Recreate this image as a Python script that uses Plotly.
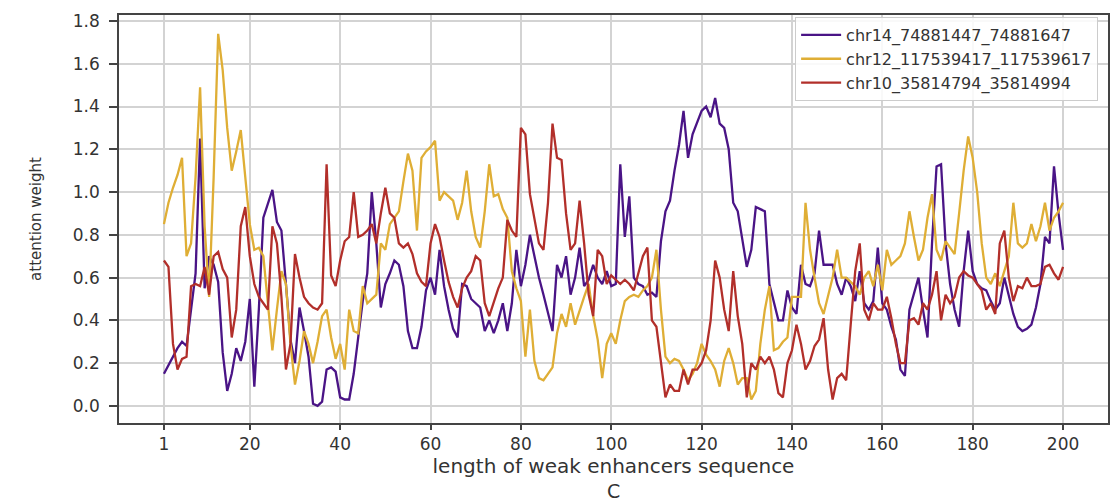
import plotly.graph_objects as go

positions = list(range(1, 201))

chr14_74881447_74881647 = [
    0.15, 0.19, 0.23, 0.27, 0.30, 0.28, 0.45, 0.62, 1.25, 0.55,
    0.70, 0.66, 0.58, 0.25, 0.07, 0.15, 0.27, 0.21, 0.30, 0.50,
    0.09, 0.45, 0.88, 0.95, 1.01, 0.86, 0.82, 0.57, 0.31, 0.20,
    0.46, 0.35, 0.23, 0.01, 0.00, 0.02, 0.17, 0.18, 0.16, 0.04,
    0.03, 0.03, 0.15, 0.32, 0.49, 0.62, 1.00, 0.76, 0.46, 0.57,
    0.62, 0.68, 0.66, 0.56, 0.35, 0.27, 0.27, 0.37, 0.54, 0.60,
    0.52, 0.73, 0.56, 0.45, 0.36, 0.32, 0.57, 0.56, 0.50, 0.48,
    0.46, 0.35, 0.40, 0.34, 0.40, 0.48, 0.35, 0.48, 0.73, 0.56,
    0.66, 0.80, 0.70, 0.60, 0.52, 0.43, 0.35, 0.66, 0.60, 0.70,
    0.52, 0.60, 0.74, 0.56, 0.59, 0.66, 0.60, 0.57, 0.63, 0.56,
    0.57, 1.13, 0.79, 0.98, 0.60, 0.57, 0.56, 0.52, 0.53, 0.51,
    0.77, 0.91, 0.96, 1.10, 1.22, 1.38, 1.16, 1.27, 1.33, 1.38,
    1.40, 1.35, 1.44, 1.32, 1.30, 1.20, 0.95, 0.91, 0.78, 0.65,
    0.73, 0.93, 0.92, 0.91, 0.57, 0.48, 0.40, 0.40, 0.54, 0.46,
    0.43, 0.66, 0.57, 0.56, 0.62, 0.82, 0.66, 0.66, 0.66, 0.57,
    0.52, 0.60, 0.56, 0.49, 0.63, 0.48, 0.45, 0.49, 0.74, 0.48,
    0.45, 0.37, 0.31, 0.17, 0.14, 0.45, 0.52, 0.60, 0.45, 0.32,
    0.76, 1.12, 1.13, 0.76, 0.57, 0.45, 0.37, 0.63, 0.82, 0.63,
    0.57, 0.55, 0.54, 0.49, 0.45, 0.48, 0.60, 0.52, 0.43, 0.37,
    0.35, 0.36, 0.38, 0.46, 0.57, 0.79, 0.76, 1.12, 0.90, 0.73,
]

chr12_117539417_117539617 = [
    0.85, 0.95, 1.02, 1.08, 1.16, 0.70, 0.76, 1.07, 1.49, 0.84,
    0.51, 1.07, 1.74, 1.57, 1.30, 1.10, 1.19, 1.29, 1.07, 0.85,
    0.73, 0.74, 0.70, 0.48, 0.26, 0.45, 0.63, 0.57, 0.29, 0.10,
    0.21, 0.35, 0.29, 0.20, 0.30, 0.42, 0.45, 0.32, 0.22, 0.29,
    0.17, 0.45, 0.35, 0.34, 0.56, 0.48, 0.50, 0.52, 0.76, 0.73,
    0.85, 0.88, 0.91, 1.05, 1.18, 1.10, 0.82, 1.16, 1.19, 1.21,
    1.24, 0.96, 1.00, 0.98, 0.96, 0.87, 0.95, 1.10, 0.91, 0.79,
    0.74, 0.91, 1.13, 0.98, 0.99, 0.92, 0.88, 0.63, 0.55, 0.49,
    0.23, 0.45, 0.21, 0.13, 0.12, 0.15, 0.18, 0.34, 0.43, 0.37,
    0.48, 0.38, 0.45, 0.51, 0.57, 0.42, 0.31, 0.13, 0.29, 0.34,
    0.29, 0.40, 0.49, 0.51, 0.52, 0.51, 0.54, 0.56, 0.60, 0.73,
    0.45, 0.23, 0.20, 0.22, 0.21, 0.17, 0.12, 0.15, 0.20, 0.29,
    0.24, 0.21, 0.17, 0.09, 0.21, 0.27, 0.20, 0.10, 0.13, 0.13,
    0.03, 0.07, 0.29, 0.45, 0.56, 0.26, 0.27, 0.30, 0.32, 0.51,
    0.51, 0.51, 0.95, 0.73, 0.60, 0.48, 0.43, 0.52, 0.60, 0.73,
    0.60, 0.60, 0.58, 0.56, 0.52, 0.60, 0.63, 0.56, 0.66, 0.54,
    0.73, 0.66, 0.68, 0.70, 0.76, 0.91, 0.79, 0.68, 0.73, 0.88,
    0.99, 0.73, 0.68, 0.77, 0.74, 0.71, 0.90, 1.10, 1.26, 1.16,
    1.00, 0.76, 0.60, 0.57, 0.62, 0.56, 0.63, 0.70, 0.95, 0.76,
    0.74, 0.76, 0.85, 0.77, 0.84, 0.95, 0.82, 0.88, 0.91, 0.95,
]

chr10_35814794_35814994 = [
    0.68, 0.65, 0.29, 0.17, 0.22, 0.23, 0.56, 0.57, 0.56, 0.65,
    0.52, 0.70, 0.72, 0.64, 0.60, 0.32, 0.45, 0.84, 0.93, 0.70,
    0.57, 0.51, 0.48, 0.45, 0.84, 0.76, 0.51, 0.17, 0.29, 0.71,
    0.60, 0.51, 0.48, 0.46, 0.45, 0.48, 1.13, 0.61, 0.56, 0.68,
    0.77, 0.79, 1.00, 0.79, 0.80, 0.82, 0.85, 0.76, 0.90, 1.02,
    0.90, 0.88, 0.76, 0.74, 0.76, 0.71, 0.62, 0.58, 0.56, 0.76,
    0.85, 0.79, 0.68, 0.58, 0.51, 0.46, 0.55, 0.60, 0.63, 0.70,
    0.68, 0.48, 0.42, 0.49, 0.55, 0.60, 0.87, 0.82, 0.79, 1.30,
    1.27, 0.99, 0.87, 0.76, 0.73, 0.95, 1.32, 1.16, 1.15, 0.90,
    0.73, 0.76, 0.96, 0.76, 0.52, 0.42, 0.73, 0.70, 0.57, 0.61,
    0.59, 0.57, 0.59, 0.57, 0.54, 0.62, 0.70, 0.74, 0.40, 0.37,
    0.21, 0.04, 0.10, 0.07, 0.07, 0.17, 0.10, 0.17, 0.17, 0.20,
    0.26, 0.40, 0.68, 0.60, 0.45, 0.35, 0.63, 0.42, 0.29, 0.04,
    0.20, 0.17, 0.23, 0.20, 0.23, 0.17, 0.06, 0.04, 0.20, 0.26,
    0.38, 0.29, 0.17, 0.21, 0.28, 0.31, 0.41, 0.17, 0.03, 0.13,
    0.15, 0.12, 0.38, 0.63, 0.76, 0.45, 0.40, 0.48, 0.45, 0.45,
    0.51, 0.41, 0.29, 0.20, 0.20, 0.40, 0.41, 0.38, 0.48, 0.45,
    0.52, 0.63, 0.40, 0.52, 0.48, 0.51, 0.60, 0.63, 0.61, 0.60,
    0.57, 0.54, 0.45, 0.48, 0.43, 0.76, 0.82, 0.60, 0.49, 0.56,
    0.55, 0.60, 0.56, 0.56, 0.57, 0.65, 0.66, 0.62, 0.59, 0.65,
]

series_names = ["chr14_74881447_74881647", "chr12_117539417_117539617", "chr10_35814794_35814994"]
series_values = [chr14_74881447_74881647, chr12_117539417_117539617, chr10_35814794_35814994]
series_colors = ["#4a1486", "#dfae35", "#b22f2a"]

x_tick_vals = [1, 20, 40, 60, 80, 100, 120, 140, 160, 180, 200]
y_tick_vals = [0.0, 0.2, 0.4, 0.6, 0.8, 1.0, 1.2, 1.4, 1.6, 1.8]

FONT = "DejaVu Sans"

fig = go.Figure()
for name, vals, col in zip(series_names, series_values, series_colors):
    fig.add_trace(go.Scatter(x=positions, y=vals, mode="lines", name=name,
                             line=dict(color=col, width=2.3)))

fig.update_layout(
    width=1111, height=504,
    margin=dict(l=119, r=1, t=15, b=81),
    paper_bgcolor="white", plot_bgcolor="white",
    font=dict(family=FONT, color="#333333"),
    showlegend=True,
    legend=dict(
        x=0.99, y=0.995, xanchor="right", yanchor="top",
        bgcolor="rgba(255,255,255,0.85)", bordercolor="#cccccc", borderwidth=1,
        font=dict(family=FONT, size=16, color="#333333"),
        tracegroupgap=0, itemwidth=40,
    ),
    annotations=[dict(text="C", x=0.5, xref="paper", y=-0.167, yref="paper",
                      yanchor="middle", showarrow=False,
                      font=dict(family=FONT, size=19, color="#333333"))],
)

fig.update_xaxes(
    range=[-8.95, 209.95], tickvals=x_tick_vals, ticktext=[str(v) for v in x_tick_vals],
    showgrid=True, gridcolor="#d3d3d3", gridwidth=1.5, zeroline=False,
    showline=True, linecolor="#444444", linewidth=1.5, mirror=True,
    ticks="outside", ticklen=5, tickcolor="#444444", tickwidth=1.5,
    tickfont=dict(family=FONT, size=17, color="#333333"),
    title=dict(text="length of weak enhancers sequence", standoff=4,
               font=dict(family=FONT, size=20, color="#333333")),
)
fig.update_yaxes(
    range=[-0.08, 1.828], tickvals=y_tick_vals, tickformat=".1f",
    showgrid=True, gridcolor="#d3d3d3", gridwidth=1.5, zeroline=False,
    showline=True, linecolor="#444444", linewidth=1.5, mirror=True,
    ticks="outside", ticklen=8, tickcolor="#444444", tickwidth=1.5,
    ticklabelstandoff=6,
    tickfont=dict(family=FONT, size=17, color="#333333"),
    title=dict(text="attention weight", standoff=28,
               font=dict(family=FONT, size=15, color="#333333")),
)

fig.write_html("out.html")
